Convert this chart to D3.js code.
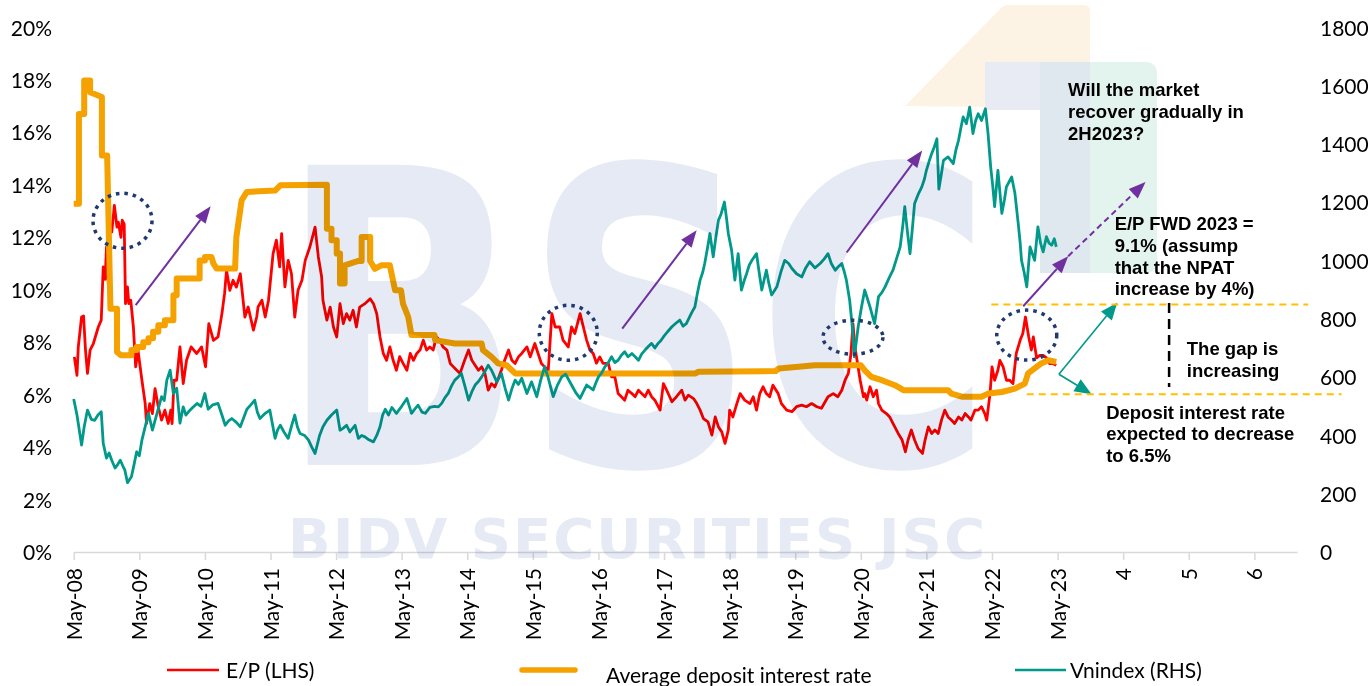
<!DOCTYPE html>
<html><head><meta charset="utf-8">
<script src="https://cdn.jsdelivr.net/npm/d3@7"></script>
<style>body{margin:0;background:#fff}svg{display:block}</style>
</head><body>
<svg id="chart" width="1370" height="686"></svg>
<script>
// ---------- DATA ----------
const xLabels = ["May-08","May-09","May-10","May-11","May-12","May-13","May-14","May-15","May-16","May-17","May-18","May-19","May-20","May-21","May-22","May-23","4","5","6"];
const leftTicks = [0,2,4,6,8,10,12,14,16,18,20];
const rightTicks = [0,200,400,600,800,1000,1200,1400,1600,1800];

// E/P (LHS, %) : [years since May-08, value]
const epData = [[0.01,7.44],[0.05,6.74],[0.07,7.82],[0.12,8.96],[0.15,9.0],[0.18,7.70],[0.21,6.81],[0.25,7.70],[0.30,7.95],[0.375,8.58],[0.42,8.84],[0.45,10.87],[0.48,10.4],[0.50,11.63],[0.53,10.11],[0.55,12.39],[0.58,12.2],[0.62,13.22],[0.66,12.39],[0.68,12.58],[0.72,12.0],[0.74,12.65],[0.77,12.5],[0.79,9.47],[0.82,10.11],[0.84,9.47],[0.87,9.6],[0.91,8.58],[0.945,7.06],[0.98,7.70],[1.04,6.55],[1.09,5.66],[1.11,4.90],[1.16,5.66],[1.20,5.28],[1.24,6.23],[1.29,5.53],[1.34,5.03],[1.39,5.41],[1.44,4.90],[1.48,5.41],[1.50,4.90],[1.53,6.55],[1.57,6.55],[1.62,7.82],[1.67,6.42],[1.72,7.31],[1.79,7.82],[1.875,7.57],[1.95,7.82],[2.01,7.06],[2.06,8.71],[2.13,8.07],[2.20,8.2],[2.26,9.09],[2.30,9.85],[2.33,10.74],[2.38,9.98],[2.43,10.36],[2.48,10.1],[2.54,10.61],[2.61,8.96],[2.66,9.34],[2.74,8.46],[2.79,8.96],[2.81,9.34],[2.87,9.6],[2.92,8.96],[2.97,9.6],[3.04,11.38],[3.09,11.89],[3.14,10.87],[3.17,12.14],[3.22,10.11],[3.27,11.12],[3.32,10.61],[3.37,8.96],[3.42,9.98],[3.48,10.36],[3.53,11.12],[3.60,11.63],[3.68,12.39],[3.73,11.25],[3.78,10.49],[3.80,9.6],[3.86,8.84],[3.91,9.34],[3.96,8.58],[4.01,8.20],[4.06,9.47],[4.11,8.71],[4.16,9.09],[4.21,8.84],[4.26,9.22],[4.31,8.58],[4.36,9.34],[4.44,9.47],[4.52,9.66],[4.57,9.47],[4.62,9.09],[4.67,8.20],[4.72,7.57],[4.77,7.31],[4.82,7.82],[4.87,7.31],[4.92,6.93],[4.97,7.45],[5.02,7.2],[5.08,6.93],[5.13,7.57],[5.18,7.31],[5.23,7.57],[5.28,7.70],[5.33,8.08],[5.38,7.70],[5.43,7.82],[5.48,7.70],[5.53,8.2],[5.58,8.08],[5.63,7.82],[5.69,7.70],[5.74,7.19],[5.79,7.06],[5.84,6.93],[5.89,6.81],[5.96,7.31],[6.02,7.70],[6.07,7.31],[6.12,7.12],[6.17,6.93],[6.22,7.06],[6.27,6.81],[6.32,6.17],[6.37,6.42],[6.42,6.29],[6.47,6.6],[6.52,6.93],[6.57,7.31],[6.63,7.70],[6.68,7.31],[6.73,7.19],[6.78,7.44],[6.83,7.57],[6.91,7.82],[6.96,7.44],[7.03,7.95],[7.08,7.57],[7.13,7.19],[7.18,7.06],[7.235,6.93],[7.29,9.09],[7.34,8.58],[7.41,8.58],[7.46,8.08],[7.54,7.82],[7.59,8.58],[7.64,8.33],[7.72,9.09],[7.77,8.58],[7.82,8.08],[7.87,7.70],[7.92,7.57],[7.97,7.2],[8.02,7.44],[8.07,7.19],[8.15,7.19],[8.20,6.68],[8.25,6.68],[8.30,6.04],[8.35,5.92],[8.40,5.79],[8.45,6.17],[8.51,6.04],[8.56,5.92],[8.61,6.17],[8.66,6.04],[8.71,5.92],[8.76,6.17],[8.81,5.92],[8.86,5.79],[8.94,5.41],[8.99,6.42],[9.04,6.17],[9.12,5.73],[9.19,5.92],[9.27,6.17],[9.32,5.79],[9.37,5.98],[9.45,5.85],[9.50,5.66],[9.55,5.41],[9.60,5.09],[9.67,4.96],[9.73,4.46],[9.78,5.15],[9.83,4.77],[9.88,4.58],[9.93,4.14],[9.98,4.65],[10.0,5.41],[10.05,5.15],[10.11,5.66],[10.16,6.04],[10.23,5.79],[10.31,5.66],[10.36,5.92],[10.41,5.41],[10.46,6.04],[10.51,6.3],[10.56,6.04],[10.61,5.92],[10.66,6.36],[10.74,6.04],[10.79,5.66],[10.87,5.41],[10.95,5.35],[11.02,5.54],[11.10,5.60],[11.17,5.54],[11.25,5.66],[11.33,5.54],[11.40,5.48],[11.50,5.92],[11.58,6.04],[11.65,5.92],[11.71,6.17],[11.76,6.55],[11.81,6.81],[11.85,7.57],[11.88,8.71],[11.91,7.82],[11.95,7.2],[11.99,6.55],[12.04,5.92],[12.06,6.04],[12.09,5.79],[12.14,6.30],[12.19,5.92],[12.24,6.17],[12.27,5.66],[12.32,5.41],[12.39,5.28],[12.44,5.15],[12.49,4.90],[12.57,4.52],[12.63,4.27],[12.68,3.82],[12.72,4.27],[12.77,4.65],[12.82,4.27],[12.875,3.94],[12.94,3.76],[12.98,4.27],[13.03,4.77],[13.08,4.52],[13.13,4.65],[13.18,4.52],[13.23,5.03],[13.28,5.41],[13.33,5.15],[13.38,5.03],[13.43,4.90],[13.49,5.15],[13.54,5.03],[13.59,5.28],[13.64,5.15],[13.68,5.03],[13.74,5.41],[13.79,5.41],[13.84,5.54],[13.89,5.28],[13.92,5.03],[13.97,6.04],[14.00,7.06],[14.04,6.55],[14.09,6.93],[14.12,7.31],[14.17,7.06],[14.22,6.55],[14.27,6.55],[14.32,6.42],[14.37,7.57],[14.43,8.08],[14.47,8.33],[14.51,8.96],[14.56,8.20],[14.60,7.70],[14.63,8.2],[14.68,7.4],[14.73,7.5],[14.78,7.5],[14.83,7.4],[14.88,7.18],[14.93,7.18],[14.98,7.12]];

// Average deposit interest rate (LHS, %)
const depData = [[0,13.28],[0.08,13.28],[0.08,16.7],[0.16,16.7],[0.16,17.98],[0.25,17.98],[0.25,17.53],[0.43,17.35],[0.43,15.12],[0.51,15.12],[0.56,9.28],[0.66,9.28],[0.66,7.63],[0.72,7.5],[0.88,7.5],[0.88,7.7],[0.96,7.7],[0.96,7.82],[1.06,7.82],[1.06,8.0],[1.14,8.0],[1.14,8.15],[1.21,8.15],[1.21,8.4],[1.29,8.4],[1.29,8.65],[1.39,8.65],[1.39,8.84],[1.52,8.84],[1.52,9.79],[1.57,9.79],[1.57,10.43],[1.92,10.43],[1.92,11.12],[2.00,11.12],[2.00,11.25],[2.10,11.25],[2.13,11.0],[2.18,10.81],[2.46,10.81],[2.48,12.01],[2.56,13.41],[2.64,13.73],[3.07,13.78],[3.15,13.98],[3.86,14.0],[3.86,12.33],[3.93,12.33],[3.93,11.89],[4.01,11.89],[4.01,11.38],[4.06,11.38],[4.06,10.24],[4.13,10.24],[4.13,10.93],[4.34,11.1],[4.39,11.1],[4.39,12.01],[4.52,12.01],[4.52,11.1],[4.59,10.8],[4.69,10.93],[4.82,10.93],[4.90,9.98],[4.99,9.98],[5.02,9.47],[5.10,8.96],[5.15,8.27],[5.50,8.27],[5.51,8.08],[5.81,7.95],[6.22,7.95],[6.24,7.70],[6.37,7.44],[6.47,7.19],[6.60,7.12],[6.73,6.81],[9.48,6.81],[9.52,6.87],[10.7,6.9],[10.75,7.0],[11.05,7.06],[11.3,7.12],[12.0,7.12],[12.06,6.93],[12.16,6.68],[12.32,6.55],[12.52,6.36],[12.65,6.17],[13.33,6.17],[13.38,6.04],[13.54,5.92],[13.84,5.92],[13.94,6.04],[14.15,6.1],[14.35,6.23],[14.50,6.42],[14.55,6.81],[14.65,7.0],[14.75,7.19],[14.86,7.31],[14.98,7.25]];

// Vnindex (RHS, points)
const vnData = [[0,525],[0.05,470],[0.12,367],[0.16,430],[0.21,487],[0.27,455],[0.32,452],[0.37,470],[0.42,481],[0.45,373],[0.50,322],[0.54,340],[0.58,315],[0.63,288],[0.67,300],[0.71,315],[0.75,295],[0.78,281],[0.82,238],[0.88,258],[0.92,300],[0.96,344],[1.00,330],[1.04,384],[1.09,430],[1.14,476],[1.20,418],[1.27,476],[1.34,533],[1.38,520],[1.42,590],[1.47,624],[1.52,544],[1.57,562],[1.62,442],[1.67,498],[1.71,470],[1.75,481],[1.81,495],[1.88,510],[1.94,500],[2.00,544],[2.05,490],[2.12,505],[2.20,510],[2.26,470],[2.31,435],[2.36,450],[2.41,458],[2.48,445],[2.54,430],[2.59,460],[2.64,490],[2.70,505],[2.76,521],[2.80,480],[2.84,458],[2.92,476],[2.99,487],[3.07,390],[3.11,420],[3.15,435],[3.21,410],[3.27,390],[3.33,440],[3.37,470],[3.41,430],[3.45,407],[3.52,400],[3.58,384],[3.63,360],[3.68,338],[3.75,401],[3.80,430],[3.86,452],[3.93,470],[4.01,487],[4.06,418],[4.11,425],[4.16,435],[4.21,412],[4.29,435],[4.34,390],[4.39,400],[4.44,395],[4.50,385],[4.57,378],[4.62,400],[4.67,430],[4.71,470],[4.75,490],[4.80,470],[4.85,496],[4.92,476],[5.00,500],[5.08,527],[5.15,476],[5.20,490],[5.25,504],[5.31,480],[5.36,476],[5.43,496],[5.50,500],[5.56,498],[5.61,510],[5.66,530],[5.71,544],[5.76,570],[5.81,590],[5.86,600],[5.91,613],[5.96,573],[6.02,521],[6.07,550],[6.12,573],[6.17,585],[6.22,601],[6.27,620],[6.32,641],[6.37,624],[6.45,584],[6.52,613],[6.58,560],[6.63,521],[6.68,560],[6.73,590],[6.78,575],[6.83,596],[6.91,544],[6.98,584],[7.06,533],[7.12,590],[7.18,636],[7.23,601],[7.31,533],[7.37,570],[7.44,601],[7.50,610],[7.59,573],[7.66,545],[7.72,527],[7.77,550],[7.82,573],[7.92,556],[7.96,580],[8.00,601],[8.05,615],[8.10,636],[8.15,650],[8.20,670],[8.25,650],[8.30,658],[8.35,675],[8.40,687],[8.45,670],[8.51,681],[8.56,670],[8.61,658],[8.66,680],[8.71,693],[8.76,705],[8.81,716],[8.86,700],[8.91,716],[8.95,725],[8.99,738],[9.05,755],[9.12,773],[9.18,785],[9.24,796],[9.29,775],[9.34,784],[9.39,807],[9.43,825],[9.47,841],[9.51,890],[9.55,933],[9.59,960],[9.62,990],[9.66,1040],[9.70,1093],[9.75,1013],[9.79,1080],[9.83,1139],[9.87,1160],[9.92,1201],[9.95,1150],[9.98,1093],[10.03,1036],[10.08,933],[10.13,1024],[10.18,899],[10.22,930],[10.26,956],[10.30,985],[10.34,1001],[10.41,1024],[10.45,960],[10.49,899],[10.56,967],[10.60,920],[10.64,882],[10.72,910],[10.78,960],[10.84,1001],[10.90,990],[10.95,973],[11.02,955],[11.10,944],[11.16,975],[11.22,996],[11.30,975],[11.38,990],[11.44,1005],[11.50,1024],[11.55,990],[11.61,967],[11.66,980],[11.71,990],[11.75,960],[11.78,933],[11.83,864],[11.87,773],[11.90,670],[11.93,720],[11.96,773],[12.01,840],[12.06,899],[12.10,870],[12.14,841],[12.21,784],[12.27,876],[12.32,890],[12.37,910],[12.43,940],[12.49,967],[12.55,1010],[12.60,1047],[12.64,1120],[12.67,1185],[12.71,1100],[12.75,1024],[12.79,1120],[12.82,1196],[12.88,1230],[12.93,1253],[12.97,1280],[13.00,1310],[13.04,1340],[13.08,1367],[13.12,1390],[13.16,1418],[13.19,1245],[13.23,1300],[13.26,1344],[13.33,1356],[13.41,1333],[13.45,1380],[13.49,1413],[13.53,1460],[13.56,1493],[13.61,1470],[13.66,1527],[13.71,1436],[13.75,1480],[13.79,1504],[13.84,1481],[13.90,1521],[13.94,1436],[13.98,1321],[14.01,1260],[14.04,1185],[14.09,1310],[14.15,1162],[14.19,1210],[14.22,1253],[14.30,1287],[14.35,1230],[14.40,1127],[14.43,1060],[14.45,1001],[14.49,960],[14.53,910],[14.58,1047],[14.62,1020],[14.65,1001],[14.70,1116],[14.74,1060],[14.78,1030],[14.83,1082],[14.87,1060],[14.91,1053],[14.95,1075],[14.98,1047]];

const legendLabels = ["E/P (LHS)", "Average deposit interest rate", "Vnindex (RHS)"];
const noteMarket = ["Will the market", "recover gradually in", "2H2023?"];
const noteEP = ["E/P FWD 2023 =", "9.1% (assump", "that the NPAT", "increase by 4%)"];
const noteGap = ["The gap is", "increasing"];
const noteDeposit = ["Deposit interest rate", "expected to decrease", "to 6.5%"];

// annotation anchors in data units [years, %]
const circleAnchors = [[0.744,12.63],[7.54,8.36],[11.88,8.19],[14.53,8.27]];
const purpleArrows = [[[0.945,9.41],[2.088,13.18]],[[8.363,8.52],[9.497,12.27]],[[11.784,11.42],[12.936,15.31]],[[14.476,9.37],[15.162,11.28]]];
const purpleDashArrow = [[15.162,11.28],[16.341,14.11]];
const tealArrows = [[[15.02,6.78],[15.909,9.50]],[[15.02,6.78],[15.518,6.02]]];
const gapLines = [[13.99,18.82,9.44],[14.53,19.33,6.02]];
const gapVertical = [16.70, 9.49, 6.29];

// ---------- CHART ----------
const svg = d3.select("#chart");
const x = d3.scaleLinear().domain([0, 18.65]).range([73.7, 1297]);
const yL = d3.scaleLinear().domain([0, 20]).range([552, 27.5]);
const yR = d3.scaleLinear().domain([0, 1800]).range([552, 27.5]);
const FONT = "Lato, 'Open Sans', sans-serif";
const RED = "#ff0000", ORANGE = "#f5a100", TEAL = "#00998a", PURPLE = "#7030a0", NAVY = "#1f3a6e";

// logo background shapes (watermark decoration)
const deco = svg.append("g");
deco.append("path").attr("d","M905,106 L1001,8 Q1004,5 1009,5 L1084,5 Q1090,5 1090,11 L1090,108 Z").attr("fill","#fdf3e4");
deco.append("rect").attr("x",985).attr("y",62).attr("width",105).attr("height",48).attr("fill","#e8ebf4");
deco.append("rect").attr("x",1040).attr("y",62).attr("width",117).attr("height",211).attr("rx",10).attr("fill","#e3f4ee");
deco.append("rect").attr("x",1040).attr("y",62).attr("width",50).attr("height",211).attr("fill","#dfe8ee");

// axes
const xAxis = svg.append("g").attr("transform","translate(0,552)")
  .call(d3.axisBottom(x).tickValues(d3.range(0, xLabels.length)).tickFormat(i => xLabels[i]).tickSize(8).tickSizeOuter(0));
xAxis.select(".domain").attr("stroke","#d9d9d9").attr("stroke-width",1.5);
xAxis.selectAll(".tick line").attr("stroke","#d9d9d9").attr("stroke-width",1.5);
xAxis.selectAll(".tick text").attr("transform","rotate(-90)").attr("x",-16).attr("y",0).attr("dy","0.36em")
  .style("text-anchor","end").style("font-family",FONT).style("font-size","21px").attr("fill","#000");

const yAxisL = svg.append("g").attr("transform","translate(52,0)")
  .call(d3.axisLeft(yL).tickValues(leftTicks).tickFormat(d => d + "%").tickSize(0).tickPadding(0));
yAxisL.select(".domain").remove();
yAxisL.selectAll("text").attr("dy","0.36em").style("font-family",FONT).style("font-size","21px").attr("fill","#000");

const yAxisR = svg.append("g").attr("transform","translate(1320,0)")
  .call(d3.axisRight(yR).tickValues(rightTicks).tickFormat(d3.format("d")).tickSize(0).tickPadding(0));
yAxisR.select(".domain").remove();
yAxisR.selectAll("text").attr("dy","0.36em").style("font-family",FONT).style("font-size","21px").attr("fill","#000");

// series
const lineL = d3.line().x(d => x(d[0])).y(d => yL(d[1]));
const lineR = d3.line().x(d => x(d[0])).y(d => yR(d[1]));
svg.append("path").datum(epData).attr("d", lineL).attr("fill","none").attr("stroke",RED).attr("stroke-width",2.8).attr("stroke-linejoin","round");
svg.append("path").datum(depData).attr("d", lineL).attr("fill","none").attr("stroke",ORANGE).attr("stroke-width",6).attr("stroke-linejoin","round");
svg.append("path").datum(vnData).attr("d", lineR).attr("fill","none").attr("stroke",TEAL).attr("stroke-width",2.8).attr("stroke-linejoin","round");

// watermark (multiply over everything)
const wm = svg.append("g").style("mix-blend-mode","multiply").attr("fill","#e6eaf4");
wm.append("text").text("BSC").attr("x",278).attr("y",465).attr("textLength",715).attr("lengthAdjust","spacingAndGlyphs")
  .style("font-family","'DejaVu Sans', sans-serif").style("font-weight","bold").style("font-size","412px");
wm.append("text").text("BIDV SECURITIES JSC").attr("x",288).attr("y",558).attr("textLength",697).attr("lengthAdjust","spacing")
  .style("font-family","'DejaVu Sans', sans-serif").style("font-weight","bold").style("font-size","56px");

// annotations
const ann = svg.append("g");
const radii = [[29.5,27.5],[29,27.5],[30,17],[30,25]];
circleAnchors.forEach((c, i) => {
  ann.append("ellipse").attr("cx", x(c[0])).attr("cy", yL(c[1])).attr("rx", radii[i][0]).attr("ry", radii[i][1])
    .attr("fill","none").attr("stroke",NAVY).attr("stroke-width",3.5).attr("stroke-dasharray","3.5 5");
});
function arrow(p1, p2, color, w, hl, hw, dash) {
  const x1 = x(p1[0]), y1 = yL(p1[1]), x2 = x(p2[0]), y2 = yL(p2[1]);
  const a = Math.atan2(y2 - y1, x2 - x1);
  const bx = x2 - hl * Math.cos(a), by = y2 - hl * Math.sin(a);
  const l = ann.append("line").attr("x1",x1).attr("y1",y1).attr("x2",bx).attr("y2",by).attr("stroke",color).attr("stroke-width",w);
  if (dash) l.attr("stroke-dasharray", dash);
  ann.append("path").attr("d", `M${x2},${y2}L${bx + hw/2*Math.sin(a)},${by - hw/2*Math.cos(a)}L${bx - hw/2*Math.sin(a)},${by + hw/2*Math.cos(a)}Z`).attr("fill",color);
}
purpleArrows.forEach(p => arrow(p[0], p[1], PURPLE, 2, 17, 13));
arrow(purpleDashArrow[0], purpleDashArrow[1], PURPLE, 2, 17, 13, "6 4");
tealArrows.forEach(p => arrow(p[0], p[1], TEAL, 1.6, 17, 14));
gapLines.forEach(g => ann.append("line").attr("x1",x(g[0])).attr("x2",x(g[1])).attr("y1",yL(g[2])).attr("y2",yL(g[2]))
  .attr("stroke","#ffc000").attr("stroke-width",2).attr("stroke-dasharray","7 5"));
ann.append("line").attr("x1",x(gapVertical[0])).attr("x2",x(gapVertical[0])).attr("y1",yL(gapVertical[1])).attr("y2",yL(gapVertical[2]))
  .attr("stroke","#000").attr("stroke-width",2.5).attr("stroke-dasharray","10 6");

function note(lines, t, v) {
  const tx = ann.append("text").attr("x", x(t)).attr("y", yL(v))
    .style("font-family","'Liberation Sans', Arial, sans-serif").style("font-weight","bold").style("font-size","18.5px").attr("fill","#000");
  lines.forEach((s, i) => tx.append("tspan").attr("x", x(t)).attr("dy", i ? 21.7 : 0).text(s));
}
note(noteMarket, 15.16, 17.37);
note(noteEP, 15.87, 12.27);
note(noteGap, 16.97, 7.50);
note(noteDeposit, 15.74, 5.09);

// legend
const lg = svg.append("g").style("font-family",FONT).style("font-size","21px");
lg.append("line").attr("x1",167).attr("x2",219).attr("y1",670).attr("y2",670).attr("stroke",RED).attr("stroke-width",2.6);
lg.append("text").attr("x",226).attr("y",670).attr("dy","0.36em").text(legendLabels[0]);
lg.append("line").attr("x1",522).attr("x2",575).attr("y1",670).attr("y2",670).attr("stroke",ORANGE).attr("stroke-width",5.5).attr("stroke-linecap","round");
lg.append("text").attr("x",606).attr("y",675).attr("dy","0.36em").text(legendLabels[1]);
lg.append("line").attr("x1",1015).attr("x2",1066).attr("y1",670).attr("y2",670).attr("stroke",TEAL).attr("stroke-width",2.6);
lg.append("text").attr("x",1070).attr("y",670).attr("dy","0.36em").text(legendLabels[2]);
</script>
</body></html>
